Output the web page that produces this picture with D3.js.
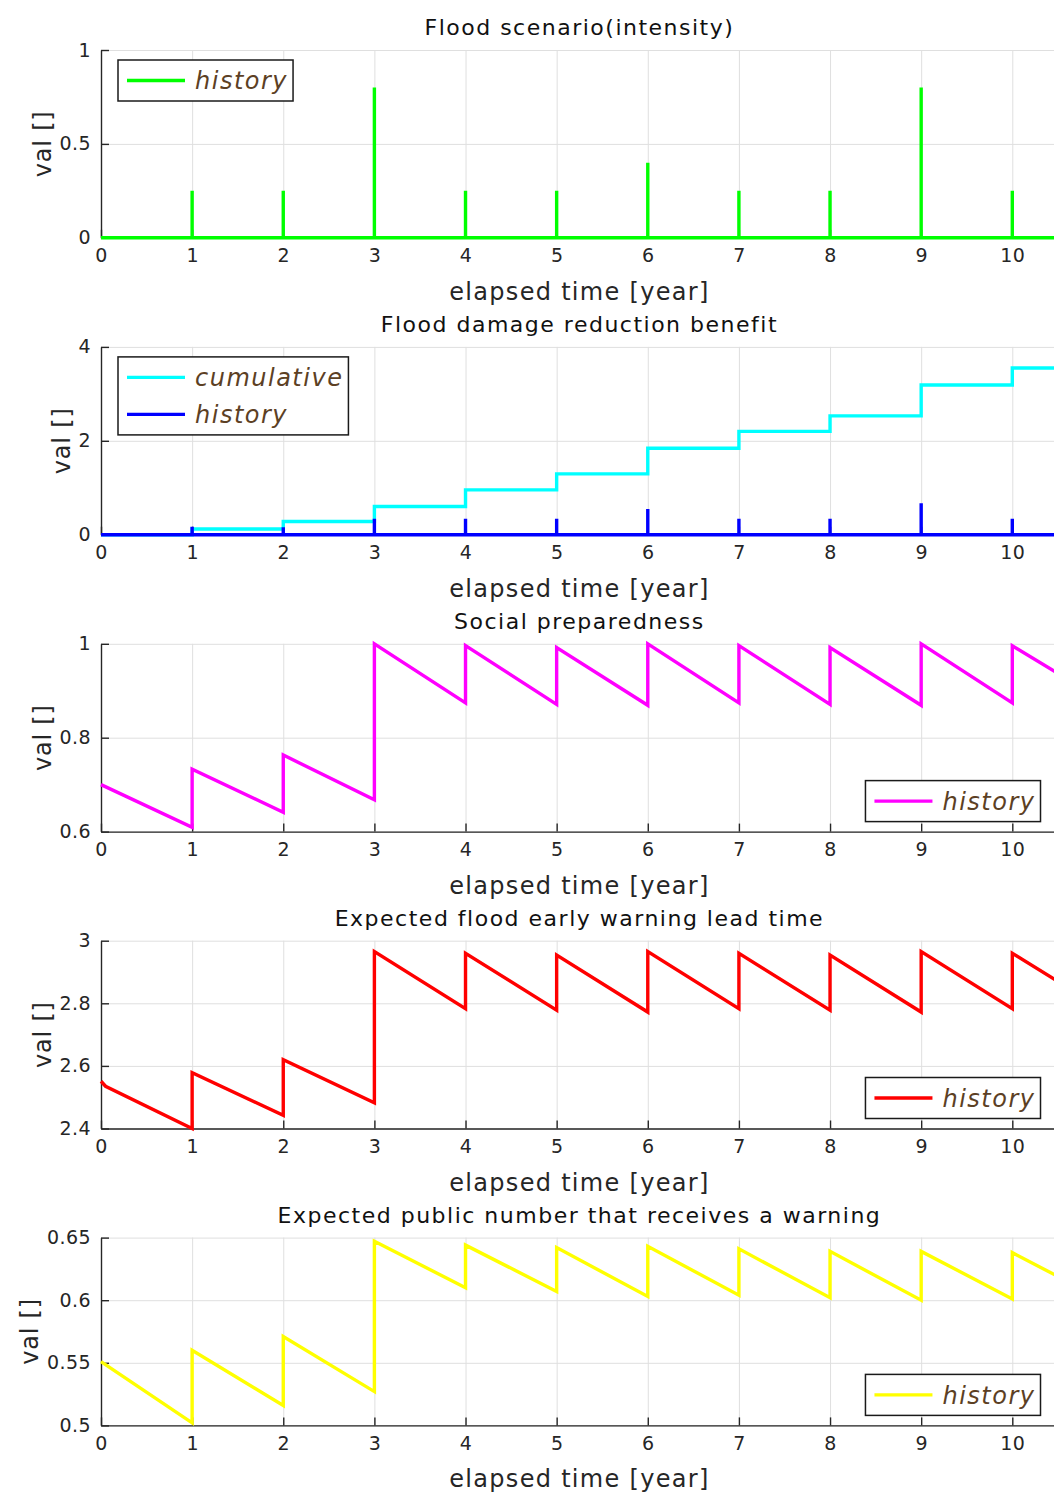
<!DOCTYPE html>
<html>
<head>
<meta charset="utf-8">
<script src="https://cdn.jsdelivr.net/npm/d3@7"></script>
<style>
  body { margin: 0; background: #fff; }
  svg { display: block; font-family: "DejaVu Sans", "Noto Sans", sans-serif; }
</style>
</head>
<body>
<svg id="chart" width="1054" height="1495"></svg>
<script>
// ---- data ----------------------------------------------------------------
const xTicks = [0, 1, 2, 3, 4, 5, 6, 7, 8, 9, 10];
const tEnd = 10.5;
const floodYears = [1, 2, 3, 4, 5, 6, 7, 8, 9, 10];

// Flood scenario (intensity) per flood event
const floodIntensity = [0.25, 0.25, 0.8, 0.25, 0.25, 0.4, 0.25, 0.25, 0.8, 0.25];

// Flood damage reduction benefit
const benefitHistory = [0.17, 0.16, 0.34, 0.34, 0.34, 0.55, 0.34, 0.34, 0.67, 0.34];
const benefitCumulative = [0.12, 0.28, 0.60, 0.955, 1.295, 1.84, 2.20, 2.53, 3.19, 3.55];

// Sawtooth series: value at the start and at the end of each yearly segment
const segmentBounds = [0, 1, 2, 3, 4, 5, 6, 7, 8, 9, 10, 10.5];

const prepStart = [0.700, 0.733, 0.763, 1.000, 0.996, 0.992, 1.000, 0.996, 0.992, 1.000, 0.996];
const prepEnd   = [0.609, 0.641, 0.668, 0.874, 0.871, 0.869, 0.874, 0.871, 0.869, 0.874, 0.937];

const leadStart = [2.551, 2.578, 2.620, 2.965, 2.960, 2.954, 2.965, 2.960, 2.954, 2.965, 2.960];
const leadEnd   = [2.400, 2.442, 2.482, 2.783, 2.778, 2.772, 2.783, 2.778, 2.772, 2.783, 2.870];
const leadEarly = [0.05, 2.535];   // quick initial drop in the first year

const publicStart = [0.551, 0.560, 0.571, 0.647, 0.644, 0.642, 0.643, 0.641, 0.639, 0.639, 0.638];
const publicEnd   = [0.502, 0.516, 0.527, 0.610, 0.607, 0.603, 0.604, 0.602, 0.600, 0.601, 0.619];

// y-axis tick values per panel
const yTicksFlood   = [0, 0.5, 1];
const yTicksBenefit = [0, 2, 4];
const yTicksPrep    = [0.6, 0.8, 1];
const yTicksLead    = [2.4, 2.6, 2.8, 3];
const yTicksPublic  = [0.5, 0.55, 0.6, 0.65];

// ---- helpers -------------------------------------------------------------
function spikes(times, heights) {
  const pts = [[0, 0]];
  times.forEach((t, i) => { pts.push([t, 0], [t, heights[i]], [t, 0]); });
  pts.push([tEnd, 0]);
  return pts;
}
function steps(times, levels) {
  const pts = [[0, 0]];
  times.forEach((t, i) => pts.push([t, levels[i]]));
  pts.push([tEnd, levels[levels.length - 1]]);
  return pts;
}
function sawtooth(starts, ends) {
  const pts = [];
  starts.forEach((s, k) => { pts.push([segmentBounds[k], s], [segmentBounds[k + 1], ends[k]]); });
  return pts;
}
const leadPoints = sawtooth(leadStart, leadEnd);
leadPoints.splice(1, 0, leadEarly);

const panels = [
  { title: "Flood scenario(intensity)", yDomain: [0, 1], yTicks: yTicksFlood, legend: "nw",
    series: [{ name: "history", color: "#00ff00", points: spikes(floodYears, floodIntensity) }] },
  { title: "Flood damage reduction benefit", yDomain: [0, 4], yTicks: yTicksBenefit, legend: "nw",
    series: [
      { name: "cumulative", color: "#00ffff", points: steps(floodYears, benefitCumulative), step: true },
      { name: "history", color: "#0000ff", points: spikes(floodYears, benefitHistory) }
    ] },
  { title: "Social preparedness", yDomain: [0.6, 1], yTicks: yTicksPrep, legend: "se",
    series: [{ name: "history", color: "#ff00ff", points: sawtooth(prepStart, prepEnd) }] },
  { title: "Expected flood early warning lead time", yDomain: [2.4, 3], yTicks: yTicksLead, legend: "se",
    series: [{ name: "history", color: "#ff0000", points: leadPoints }] },
  { title: "Expected public number that receives a warning", yDomain: [0.5, 0.65], yTicks: yTicksPublic, legend: "se",
    series: [{ name: "history", color: "#ffff00", points: sawtooth(publicStart, publicEnd) }] }
];

// ---- layout --------------------------------------------------------------
const X0 = 101, PX_PER_YEAR = 91.13;
const TOP0 = 50, STEP = 296.9, PANEL_H = 187.8;
const AXIS_COLOR = "#262626", GRID_COLOR = "#dfdfdf", LEGEND_TEXT = "#5c4024";

const svg = d3.select("#chart");
const x = d3.scaleLinear().domain([0, tEnd]).range([X0, X0 + tEnd * PX_PER_YEAR]);
const plotW = x.range()[1] - X0;
const xMid = (x.range()[0] + x.range()[1]) / 2;

panels.forEach((p, i) => {
  const top = TOP0 + i * STEP, bottom = top + PANEL_H;
  const y = d3.scaleLinear().domain(p.yDomain).range([bottom, top]);
  const g = svg.append("g");

  // grid
  g.append("g").attr("transform", `translate(0,${bottom})`)
    .call(d3.axisBottom(x).tickValues(xTicks).tickSize(-PANEL_H).tickFormat(""))
    .call(s => { s.select(".domain").remove(); s.selectAll("line").attr("stroke", GRID_COLOR).attr("stroke-width", 1); });
  g.append("g").attr("transform", `translate(${X0},0)`)
    .call(d3.axisLeft(y).tickValues(p.yTicks).tickSize(-plotW).tickFormat(""))
    .call(s => { s.select(".domain").remove(); s.selectAll("line").attr("stroke", GRID_COLOR).attr("stroke-width", 1); });

  // axes with inward ticks
  const xa = g.append("g").attr("transform", `translate(0,${bottom})`)
    .call(d3.axisBottom(x).tickValues(xTicks).tickSize(-8).tickSizeOuter(0).tickPadding(11).tickFormat(d3.format("d")));
  const ya = g.append("g").attr("transform", `translate(${X0},0)`)
    .call(d3.axisLeft(y).tickValues(p.yTicks).tickSize(-8).tickSizeOuter(0).tickPadding(10).tickFormat(d => String(d)));
  [xa, ya].forEach(a => {
    a.select(".domain").attr("stroke", AXIS_COLOR).attr("stroke-width", 1.4);
    a.selectAll(".tick line").attr("stroke", AXIS_COLOR).attr("stroke-width", 1.4);
    a.selectAll(".tick text").attr("fill", AXIS_COLOR).attr("font-size", 19)
      .attr("font-family", '"DejaVu Sans", sans-serif').style("letter-spacing", "0.4px");
  });

  // data
  p.series.forEach(s => {
    const line = d3.line().x(d => x(d[0])).y(d => y(d[1]));
    if (s.step) line.curve(d3.curveStepAfter);
    g.append("path").datum(s.points)
      .attr("fill", "none").attr("stroke", s.color).attr("stroke-width", 3.4)
      .attr("stroke-linejoin", "miter").attr("d", line);
  });

  // title
  g.append("text").attr("x", xMid).attr("y", top - 15).attr("text-anchor", "middle")
    .attr("font-size", 22).attr("fill", "#111").style("letter-spacing", "1.5px").text(p.title);

  // x label
  g.append("text").attr("x", xMid).attr("y", bottom + 62).attr("text-anchor", "middle")
    .attr("font-size", 24).attr("fill", AXIS_COLOR).style("letter-spacing", "1.3px").text("elapsed time [year]");

  // y label, placed just left of the tick labels
  const tickLeft = ya.node().getBBox().x + X0;
  g.append("text")
    .attr("transform", `translate(${tickLeft - 9},${(top + bottom) / 2}) rotate(-90)`)
    .attr("text-anchor", "middle").attr("font-size", 24).attr("fill", AXIS_COLOR)
    .style("letter-spacing", "0.8px").text("val []");

  // legend
  const rowH = 37;
  const lg = g.append("g");
  const box = lg.append("rect").attr("fill", "#fff").attr("stroke", "#1a1a1a").attr("stroke-width", 1.5);
  const texts = p.series.map((s, k) => {
    const cy = 20.5 + k * rowH;
    lg.append("line").attr("x1", 9).attr("x2", 67).attr("y1", cy).attr("y2", cy)
      .attr("stroke", s.color).attr("stroke-width", 3.4);
    return lg.append("text").attr("x", 77).attr("y", cy).attr("dy", "0.36em")
      .attr("font-size", 24).attr("font-style", "italic").attr("fill", LEGEND_TEXT)
      .style("letter-spacing", "1.5px").text(s.name);
  });
  const textW = d3.max(texts, t => t.node().getComputedTextLength());
  const boxW = 77 + textW + 5, boxH = 41 + (p.series.length - 1) * rowH;
  box.attr("width", boxW).attr("height", boxH);
  if (p.legend === "nw") {
    lg.attr("transform", `translate(118,${top + 10})`);
  } else {
    lg.attr("transform", `translate(${1040.5 - boxW},${bottom - 10 - boxH})`);
  }
});
</script>
</body>
</html>
